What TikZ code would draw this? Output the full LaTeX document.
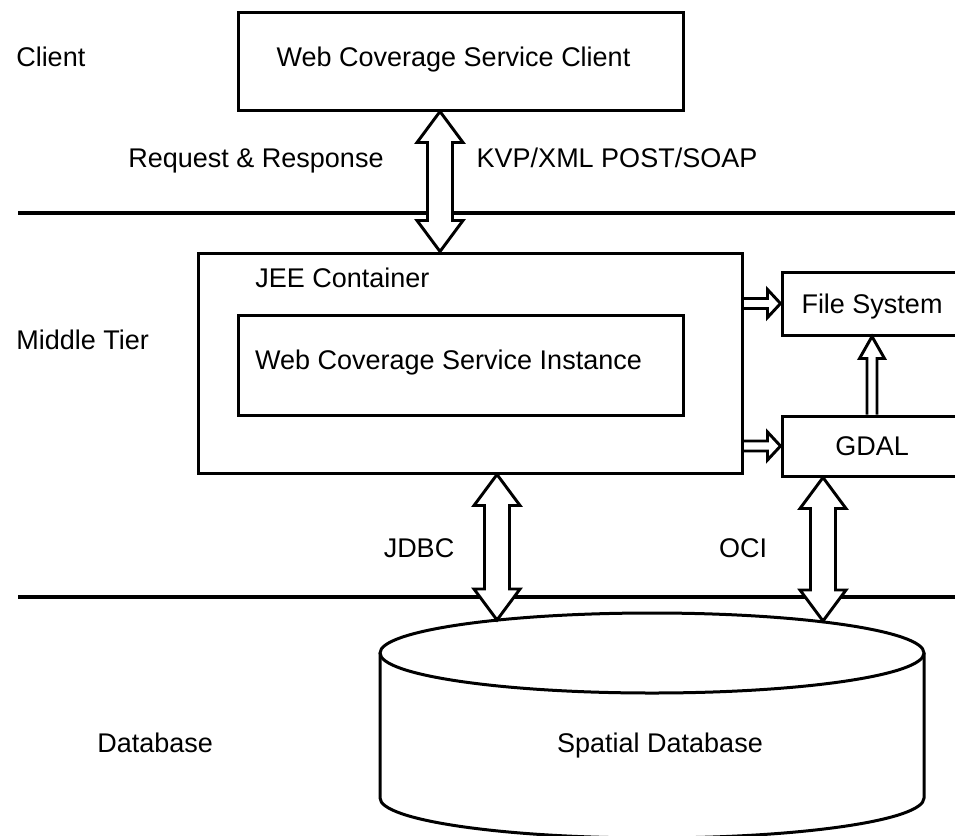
\documentclass[tikz,border=0pt]{standalone}
\usepackage{fontspec}
\setmainfont{Liberation Sans}
\usetikzlibrary{calc}
\usetikzlibrary{positioning}
\usetikzlibrary{backgrounds}

% hollow block arrows, all axis aligned
\newcommand{\hollowboth}[2]{% #1 upper tip, #2 lower tip
  \draw[hollow] (#1) -- ($(#1)+(23,31)$) -- ($(#1)+(12.5,31)$) -- ($(#2)+(12.5,-31)$) -- ($(#2)+(23,-31)$) -- (#2)
    -- ($(#2)+(-23,-31)$) -- ($(#2)+(-12.5,-31)$) -- ($(#1)+(-12.5,31)$) -- ($(#1)+(-23,31)$) -- cycle;}
\newcommand{\hollowright}[2]{% #1 tail, #2 tip
  \draw[hollow] ($(#1)+(0,-5)$) -- ($(#2)+(-13,-5)$) -- ($(#2)+(-13,-14)$) -- (#2)
    -- ($(#2)+(-13,14)$) -- ($(#2)+(-13,5)$) -- ($(#1)+(0,5)$);}
\newcommand{\hollowup}[2]{% #1 tail, #2 tip
  \draw[hollow] ($(#1)+(-5,0)$) -- ($(#2)+(-5,22)$) -- ($(#2)+(-12.5,22)$) -- (#2)
    -- ($(#2)+(12.5,22)$) -- ($(#2)+(5,22)$) -- ($(#1)+(5,0)$);}

\begin{document}
\begin{tikzpicture}[x=0.75pt, y=-0.75pt,
    font=\fontsize{20.25}{24}\selectfont,
    box/.style={draw, line width=2.25pt, inner sep=0pt, text height=14.5pt, text depth=0pt},
    lbl/.style={inner sep=0pt, text height=14.5pt, text depth=0pt},
    hollow/.style={draw, fill=white, line width=2.2pt, line join=miter},
    tierline/.style={line width=2.6pt}]
    \useasboundingbox (0,0) rectangle (955,835);

    \node[lbl, anchor=west] (tclient) at (16,57) {Client};
    \node[lbl, anchor=west] (tmiddle) at (16,340) {Middle Tier};
    \node[lbl, anchor=west] (tdb) at (97,743) {Database};

    \node[box, minimum width=333.75pt, minimum height=73.5pt] (client) at (460.5,61) {};
    \node[lbl] (clienttext) at (453.5,57) {Web Coverage Service Client};

    \node[lbl] (req) at (256,158) {Request \& Response};
    \node[lbl] (kvp) at (617,158) {KVP/XML POST/SOAP};

    \node[box, minimum width=408pt, minimum height=165pt] (jee) at (470,363) {};
    \node[lbl, anchor=west] (jeetitle) at (255,278) {JEE Container};
    \node[box, minimum width=333.75pt, minimum height=75pt] (wcsi) at (460.5,365) {};
    \node[lbl] (wcsitext) at (448.5,359.5) {Web Coverage Service Instance};

    \node[box, minimum width=135pt, minimum height=47.25pt] (fs) at (872,303.5) {File System};
    \node[box, minimum width=135pt, minimum height=45pt] (gdal) at (872,446) {GDAL};

    \node[lbl] (jdbc) at (419,548) {JDBC};
    \node[lbl] (oci) at (743,548) {OCI};

    % spatial database cylinder
    \draw[line width=2.25pt] (652,653) ellipse [x radius=272, y radius=40];
    \draw[line width=2.25pt] (380,653) -- (380,798) arc [start angle=180, end angle=0, x radius=272, y radius=40] -- (924,653);
    \node[lbl] (sdb) at (660,743) {Spatial Database};

    \coordinate (reqaxis) at (440,160);
    \coordinate (jdbctip) at (497,620);
    \coordinate (ocitip) at (823,621);

    \begin{scope}[on background layer]
    \draw[tierline] (18,213) -- (960,213);
    \draw[tierline] (18,597) -- (960,597);

    \hollowboth{client.south -| reqaxis}{jee.north -| reqaxis}
    \hollowboth{jee.south -| jdbctip}{jdbctip}
    \hollowboth{gdal.south -| ocitip}{ocitip}
    \hollowright{jee.east |- fs.west}{fs.west}
    \hollowright{jee.east |- gdal.west}{gdal.west}
    \hollowup{gdal.north}{fs.south}
    \end{scope}

\end{tikzpicture}
\end{document}
